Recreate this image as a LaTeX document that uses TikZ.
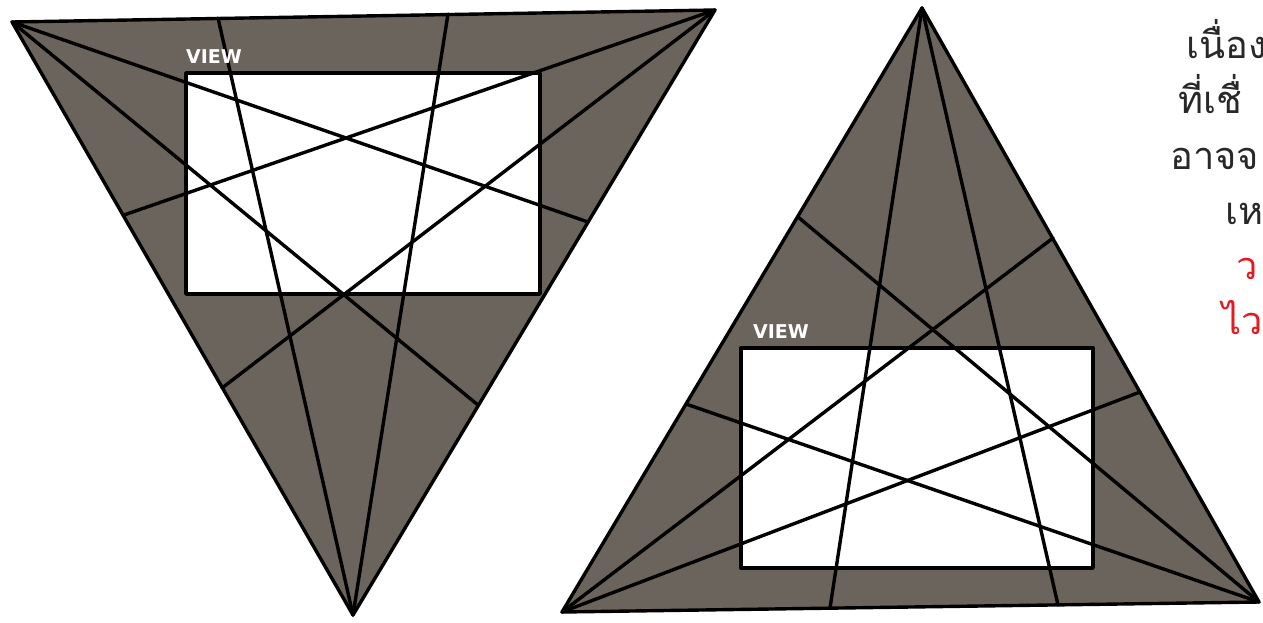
\documentclass[tikz,border=0pt]{standalone}
\usepackage{fontspec}
\usepackage{tikz}
\newfontfamily\thaifont[Script=Thai]{Loma}
\newfontfamily\labelfont{DejaVu Sans}
\definecolor{viewgray}{RGB}{107,100,93}
\definecolor{notegray}{RGB}{40,40,40}
\definecolor{warn}{RGB}{232,24,30}
\tikzset{
  edge/.style={line width=3.4pt, line join=round, line cap=round},
  viewlabel/.style={text=white, font=\labelfont\bfseries\fontsize{19}{19}\selectfont, anchor=base west, inner sep=0pt},
  note/.style={text=notegray, font=\thaifont\fontsize{38}{38}\selectfont, anchor=base west, inner sep=0pt}
}

\begin{document}
\begin{tikzpicture}[x=1pt, y=-1pt]
  \useasboundingbox (0,0) rectangle (1263,622);
  \clip (0,0) rectangle (1263,622);

  \coordinate (a) at (12,22);
  \coordinate (b) at (715,10);
  \coordinate (c) at (353,615);
  \coordinate (ab1) at (218,18);
  \coordinate (ab2) at (448,14);
  \coordinate (bc1) at (588,222);
  \coordinate (bc2) at (478,405);
  \coordinate (ca1) at (124,215);
  \coordinate (ca2) at (222,388);
  \coordinate (v1) at (186,73);
  \coordinate (v2) at (540,294);

  \coordinate (d) at (922,8);
  \coordinate (e) at (562,612);
  \coordinate (f) at (1259,602);
  \coordinate (ef1) at (830,608);
  \coordinate (ef2) at (1058,605);
  \coordinate (df1) at (1053,238);
  \coordinate (df2) at (1140,392);
  \coordinate (de1) at (798,217);
  \coordinate (de2) at (686,404);
  \coordinate (w1) at (741,348);
  \coordinate (w2) at (1093,568);

  \fill[viewgray] (a) -- (b) -- (c) -- cycle;
  \fill[white] (v1) rectangle (v2);
  \draw[edge] (a) -- (bc1);
  \draw[edge] (a) -- (bc2);
  \draw[edge] (b) -- (ca1);
  \draw[edge] (b) -- (ca2);
  \draw[edge] (c) -- (ab1);
  \draw[edge] (c) -- (ab2);
  \draw[edge] (v1) rectangle (v2);
  \draw[edge] (a) -- (b) -- (c) -- cycle;
  \node[viewlabel] (view1) at (186,63) {VIEW};

  \fill[viewgray] (d) -- (e) -- (f) -- cycle;
  \fill[white] (w1) rectangle (w2);
  \draw[edge] (d) -- (ef1);
  \draw[edge] (d) -- (ef2);
  \draw[edge] (e) -- (df1);
  \draw[edge] (e) -- (df2);
  \draw[edge] (f) -- (de1);
  \draw[edge] (f) -- (de2);
  \draw[edge] (w1) rectangle (w2);
  \draw[edge] (d) -- (e) -- (f) -- cycle;
  \node[viewlabel] (view2) at (753,338) {VIEW};

  \node[note] (line1) at (1186,58) {เนื่อง};
  \node[note] (line2) at (1178,113) {ที่เชื่};
  \node[note] (line3) at (1170,169) {อาจจ};
  \node[note] (line4) at (1225,224) {เห};
  \node[note, text=warn] (line5) at (1236,279) {ว};
  \node[note, text=warn] (line6) at (1222,334) {ไว};
\end{tikzpicture}
\end{document}
